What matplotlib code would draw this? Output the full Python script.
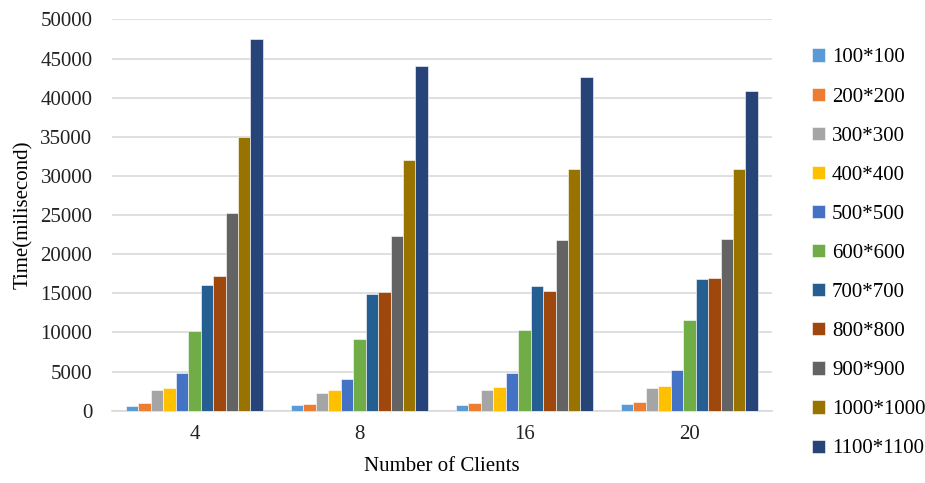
import numpy as np
import matplotlib.pyplot as plt

plt.rcParams['font.family'] = ['Liberation Serif', 'DejaVu Serif']

clients = ['4', '8', '16', '20']
sizes = ['100*100', '200*200', '300*300', '400*400', '500*500', '600*600',
         '700*700', '800*800', '900*900', '1000*1000', '1100*1100']
colors = ['#5B9BD5', '#ED7D31', '#A5A5A5', '#FFC000', '#4472C4', '#70AD47',
          '#255E91', '#9E480E', '#636363', '#997300', '#264478']

# time (ms) per matrix size, one value per client count (4, 8, 16, 20)
t100 = [650, 740, 780, 820]
t200 = [1000, 900, 1040, 1170]
t300 = [2600, 2250, 2680, 2860]
t400 = [2900, 2640, 2990, 3160]
t500 = [4850, 4110, 4850, 5150]
t600 = [10150, 9180, 10300, 11550]
t700 = [16100, 14950, 16000, 16850]
t800 = [17200, 15200, 15300, 17000]
t900 = [25300, 22350, 21850, 22000]
t1000 = [35000, 32100, 30950, 30850]
t1100 = [47500, 44100, 42600, 40900]
series = [t100, t200, t300, t400, t500, t600, t700, t800, t900, t1000, t1100]

fig = plt.figure(figsize=(9.25, 4.83), dpi=100)
ax = fig.add_axes([0.121, 0.1497, 0.7135, 0.810])

x = np.arange(len(clients))
n = len(series)
w = 0.83 / n
for i, vals in enumerate(series):
    ax.bar(x + (i - (n - 1) / 2) * w, vals, width=w, color=colors[i],
           label=sizes[i], edgecolor='white', linewidth=0.4, zorder=3)

ax.set_xlim(-0.5, len(clients) - 0.5)
ax.set_ylim(0, 50000)
ax.set_yticks(np.arange(0, 50001, 5000))
ax.set_xticks(x)
ax.set_xticklabels(clients)
ax.grid(axis='y', color='#d9d9d9', linewidth=1.2, zorder=0)
for s in ['top', 'right', 'left']:
    ax.spines[s].set_visible(False)
ax.spines['bottom'].set_color('#d9d9d9')
ax.spines['bottom'].set_linewidth(1.2)
ax.tick_params(length=0, labelsize=15, colors='#222222')
ax.tick_params(axis='x', pad=10)
ax.tick_params(axis='y', pad=14)
ax.set_xlabel('Number of Clients', fontsize=15, labelpad=10)
ax.set_ylabel('Time(milisecond)', fontsize=15, labelpad=5)

fig.legend(loc='upper left', bbox_to_anchor=(0.869, 0.917), frameon=False,
           fontsize=15, handlelength=0.6, handleheight=0.6,
           handletextpad=0.35, labelspacing=0.965, borderaxespad=0)

fig.savefig('out.png', dpi=100)
